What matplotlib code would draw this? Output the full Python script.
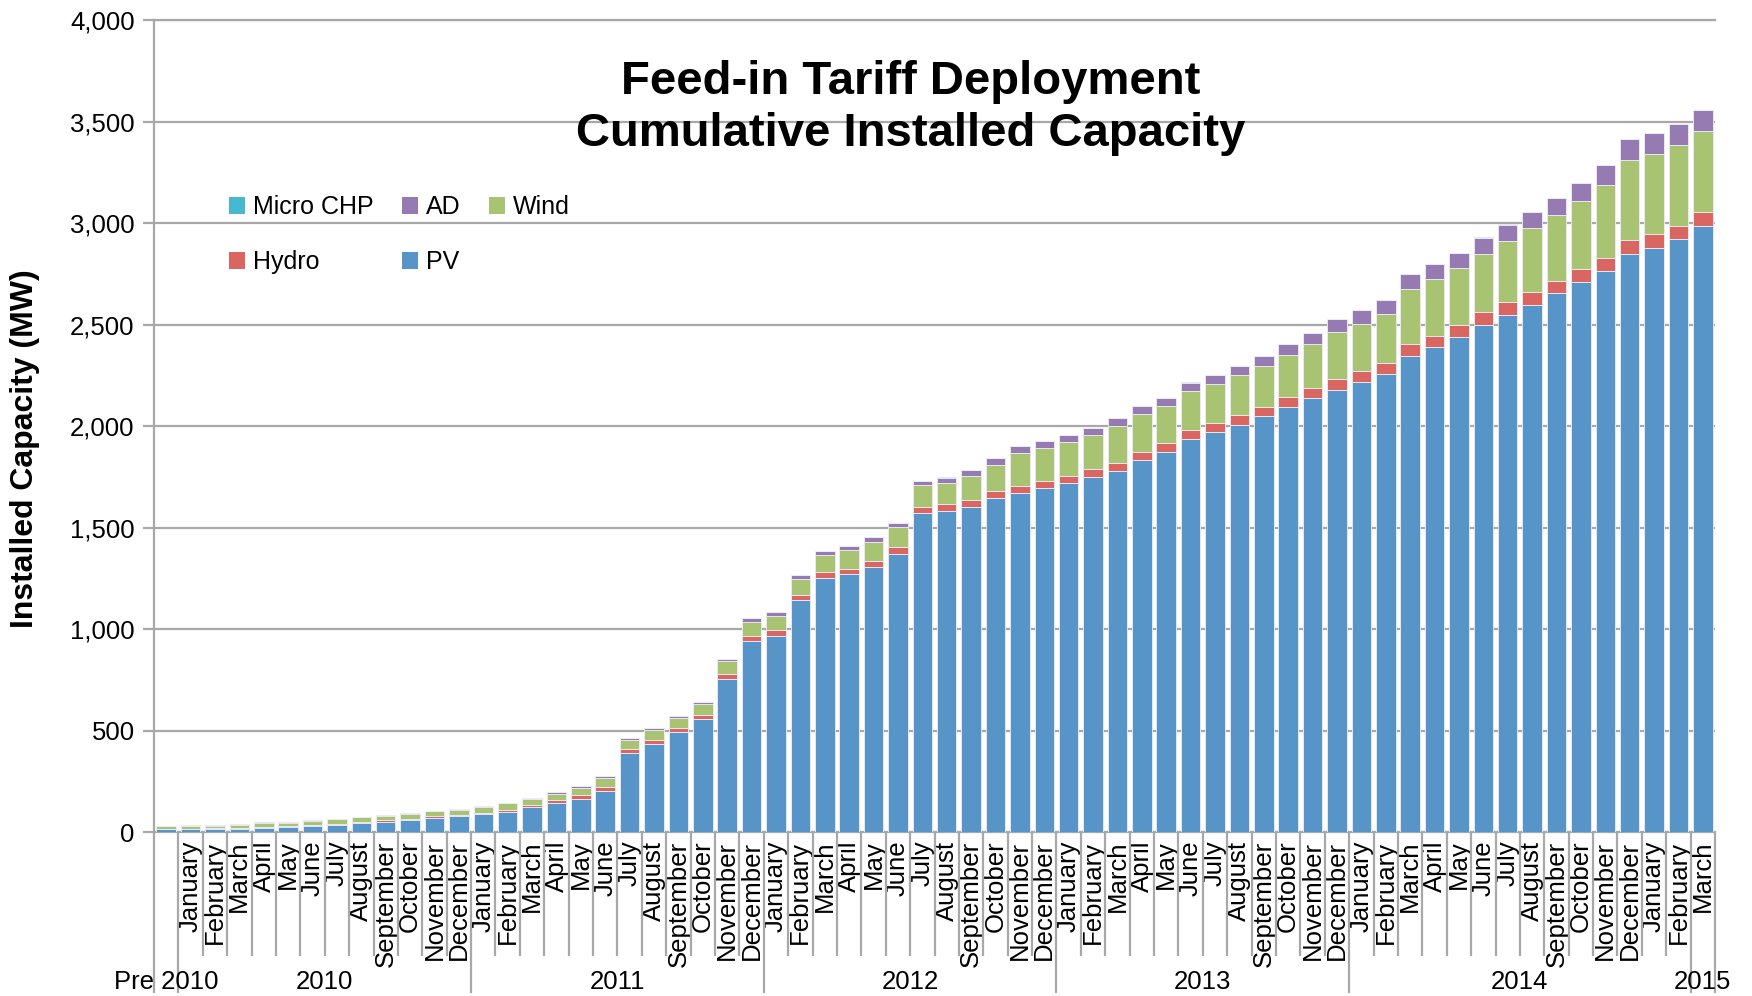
import matplotlib
matplotlib.use("Agg")
import matplotlib.pyplot as plt
from matplotlib.patches import Patch
from matplotlib.ticker import StrMethodFormatter
import numpy as np

plt.rcParams['font.family'] = ['Liberation Sans', 'DejaVu Sans']

# ---------------- data ----------------
month_names = ["January", "February", "March", "April", "May", "June", "July",
               "August", "September", "October", "November", "December"]
months = [""] + month_names * 5 + month_names[:3]

groups = ["Pre 2010", "2010", "2011", "2012", "2013", "2014", "2015"]
group_sizes = [1, 12, 12, 12, 12, 14, 1]

pv = [15, 15, 15, 16, 23, 25, 30, 38, 46, 52, 59, 72, 80, 89, 102, 123, 143, 166, 203,
      389, 435, 492, 556, 754, 944, 969, 1143, 1254, 1270, 1305, 1370, 1570, 1583,
      1600, 1648, 1671, 1694, 1718, 1748, 1780, 1833, 1871, 1938, 1970, 2008, 2049,
      2095, 2139, 2180, 2218, 2259, 2348, 2390, 2439, 2500, 2549, 2597, 2654, 2708,
      2764, 2849, 2879, 2920, 2988]
hydro = [3, 3, 4, 4, 4, 5, 5, 5, 6, 6, 7, 7, 7, 8, 9, 10, 16, 16, 20, 21, 20, 20, 23,
         23, 23, 26, 26, 26, 28, 33, 33, 33, 33, 36, 35, 35, 37, 38, 39, 40, 41, 44, 44,
         46, 47, 47, 48, 49, 51, 52, 54, 55, 56, 58, 61, 62, 62, 62, 64, 65, 66, 66,
         67, 66]
wind = [11, 13, 14, 17, 18, 18, 20, 20, 21, 23, 24, 24, 24, 29, 31, 31, 31, 36, 43, 44,
        48, 50, 52, 66, 71, 71, 79, 87, 93, 93, 100, 105, 105, 118, 128, 163, 163, 166,
        168, 180, 185, 185, 192, 193, 195, 202, 208, 215, 231, 234, 242, 271, 277, 282,
        288, 302, 315, 323, 336, 361, 396, 398, 398, 398]
ad = [3, 3, 3, 3, 3, 3, 3, 3, 3, 3, 4, 4, 4, 4, 4, 5, 8, 9, 9, 9, 9, 10, 10, 11, 16,
      17, 17, 18, 20, 21, 21, 24, 26, 30, 32, 33, 35, 36, 38, 38, 39, 40, 41, 43, 46,
      47, 55, 57, 64, 68, 68, 75, 75, 75, 80, 80, 80, 83, 89, 95, 104, 102, 103, 103]
micro_chp = [0.1] * 13 + [0.2] * 12 + [0.3] * 12 + [0.4] * 12 + [0.5] * 15

series_names = ["PV", "Hydro", "Wind", "AD", "Micro CHP"]
series_colors = ["#5795c8", "#d96660", "#a8c372", "#967bb2", "#46b8cf"]
series_values = [pv, hydro, wind, ad, micro_chp]

GRID = "#a8a8a8"

fig = plt.figure(figsize=(17.52, 9.96), dpi=100)
ax = fig.add_axes([0.0879, 0.1644, 0.8910, 0.8154])

x = np.arange(len(months))
bottom = np.zeros(len(x))
handles = {}
for name, vals, col in zip(series_names, series_values, series_colors):
    vals = np.asarray(vals, dtype=float)
    ax.bar(x, vals, bottom=bottom, width=0.8, color=col,
           edgecolor=(0.93, 0.92, 0.97, 0.9), linewidth=0.7, zorder=3)
    bottom += vals
    handles[name] = Patch(facecolor=col, edgecolor='none', label=name)

ax.set_xlim(-0.5, len(x) - 0.5)
ax.set_ylim(0, 4000)
ax.set_yticks(np.arange(0, 4001, 500))
ax.yaxis.set_major_formatter(StrMethodFormatter('{x:,.0f}'))
ax.set_axisbelow(True)
ax.grid(axis='y', color=GRID, linewidth=1.6)
ax.spines['right'].set_visible(False)
for s in ['left', 'top', 'bottom']:
    ax.spines[s].set_color(GRID)
    ax.spines[s].set_linewidth(1.6)
ax.tick_params(axis='y', length=8, width=1.6, color=GRID, labelsize=18.5, pad=6)

ax.set_xticks(x)
ax.set_xticklabels(months, rotation=90, fontsize=18.5, va='top', ha='center')
ax.tick_params(axis='x', length=0, pad=6)

# category boundary lines
trans = ax.get_xaxis_transform()
edges = -0.5 + np.cumsum([0] + group_sizes)
short_depth = -0.1525
long_depth = -0.198
for b in np.arange(0.5, len(x) - 1, 1.0):
    if not np.any(np.isclose(edges, b)):
        ax.plot([b, b], [0, short_depth], transform=trans, clip_on=False,
                color=GRID, lw=1.6, solid_capstyle='butt')
for b in edges:
    ax.plot([b, b], [0, long_depth], transform=trans, clip_on=False,
            color=GRID, lw=1.6, solid_capstyle='butt')
for g, a, b in zip(groups, edges[:-1], edges[1:]):
    ax.text((a + b) / 2, -0.184, g, transform=trans, ha='center', va='center',
            fontsize=18.5)

# legend
order = ["Micro CHP", "Hydro", "AD", "PV", "Wind"]
fig.legend([handles[n] for n in order], order, ncol=3, frameon=False,
           loc='upper left', bbox_to_anchor=(0.1307, 0.8042), fontsize=18,
           handlelength=0.65, handleheight=0.65, handletextpad=0.3,
           columnspacing=1.15, labelspacing=1.25, borderpad=0, borderaxespad=0)

# title
fig.text(0.52, 0.8915, "Feed-in Tariff Deployment\nCumulative Installed Capacity",
         ha='center', va='center', fontsize=34, fontweight='bold', linespacing=1.22)

# y label
fig.text(25 / 1752, 1 - 449 / 996, "Installed Capacity (MW)", rotation=90,
         ha='center', va='center', fontsize=23, fontweight='bold')

fig.savefig("out.png", dpi=100)
